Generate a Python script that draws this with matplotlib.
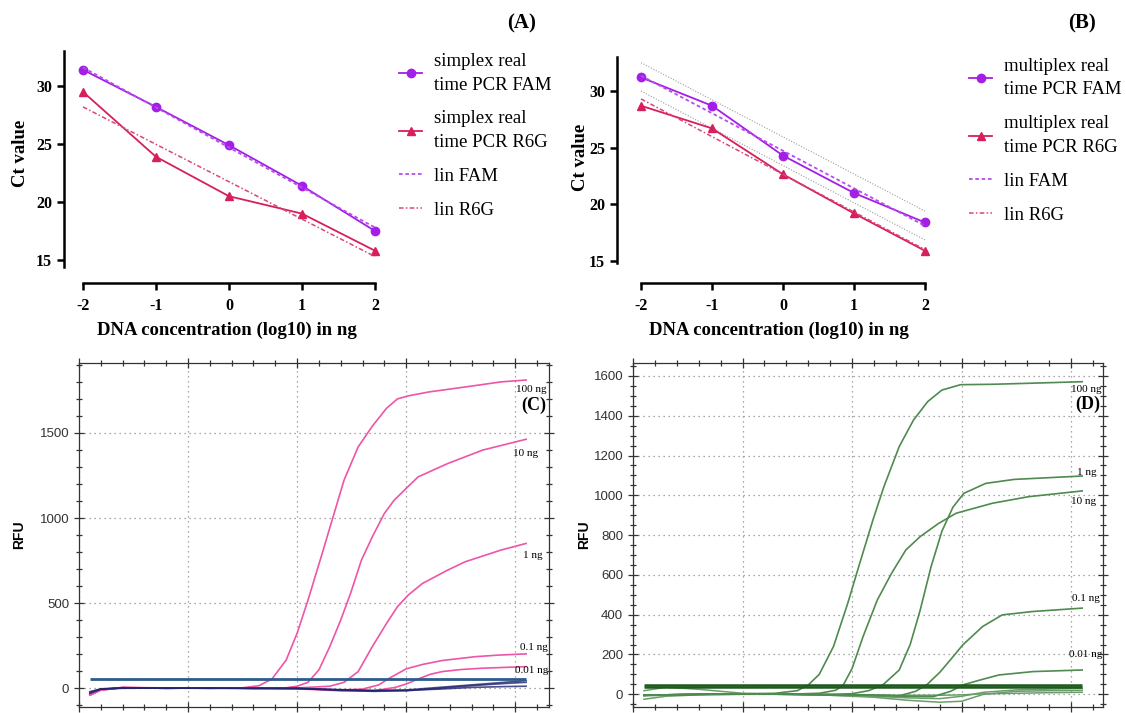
import numpy as np
import matplotlib
matplotlib.use("Agg")
import matplotlib.pyplot as plt
from matplotlib.ticker import MultipleLocator

W, H = 1126, 713

# --- (A) simplex / (B) multiplex standard curves
conc = [-2, -1, 0, 1, 2]
simplex_fam = [31.4, 28.2, 24.9, 21.4, 17.5]
simplex_r6g = [29.5, 23.9, 20.5, 19.0, 15.8]
simplex_lin_fam = [31.6, 17.8]          # read at -2 and 2
simplex_lin_r6g = [28.2, 15.3]
multi_fam = [31.2, 28.7, 24.3, 21.0, 18.4]
multi_r6g = [28.7, 26.7, 22.65, 19.2, 15.9]
multi_lin_fam = [31.35, 18.1]
multi_lin_r6g = [29.3, 16.0]
multi_band_hi = [32.5, 19.4]            # grey dotted lines in (B)
multi_band_lo = [30.0, 16.85]
lin_x = [-2, 2]

# --- (C) simplex amplification curves (cycle, RFU)
c_cyc_100 = [1, 2, 4, 8, 12, 15, 16.5, 17.7, 19, 20, 21, 22.3, 23.3, 24.3, 25.6, 26.9, 28.2, 29.2, 30.2, 32.1, 35.4, 38.7, 41]
c_rfu_100 = [-35, -8, 5, 2, 0, 3, 15, 55, 166, 323, 518, 792, 1007, 1222, 1418, 1540, 1645, 1700, 1718, 1741, 1770, 1800, 1811]
c_cyc_10 = [1, 2, 4, 8, 12, 16, 19, 20, 21, 22, 23, 24, 24.9, 25.9, 26.9, 28, 28.9, 30, 31.1, 33.8, 37, 41]
c_rfu_10 = [-40, -10, 5, 0, 2, 0, 3, 12, 35, 108, 245, 401, 557, 753, 890, 1027, 1105, 1174, 1242, 1320, 1399, 1463]
c_cyc_1 = [1, 2, 4, 8, 12, 16, 20, 23, 24.3, 25.6, 26.9, 28.2, 29.2, 30.2, 31.5, 33.8, 35.4, 38.7, 41]
c_rfu_1 = [-40, -10, 3, 0, 2, 0, 2, 12, 35, 98, 245, 381, 479, 548, 616, 694, 743, 812, 851]
c_cyc_01 = [1, 2, 4, 8, 12, 16, 20, 24, 26, 27.5, 28.4, 30, 31.5, 33.3, 36.4, 38.5, 41]
c_rfu_01 = [-40, -10, 3, 0, 2, 0, -3, -10, -5, 20, 57, 114, 140, 163, 186, 195, 202]
c_cyc_001 = [1, 2, 4, 8, 12, 16, 20, 24, 27, 29, 30, 31.2, 32.2, 33.3, 35, 37, 41]
c_rfu_001 = [-40, -10, 3, 0, 2, 0, -3, -15, -15, 5, 25, 57, 82, 98, 110, 118, 127]
c_cyc_nc = [1, 2, 4, 8, 12, 16, 20, 24, 27, 30, 33, 36, 39, 41]
c_nc1 = [-30, -5, 3, 0, 2, -2, 0, -12, -18, -15, 0, 15, 28, 35]
c_nc2 = [-20, -3, 2, 1, 0, 0, -2, -10, -15, -10, 5, 20, 35, 45]
c_nc3 = [-25, -5, 0, 2, 0, 1, 0, -8, -12, -12, -5, 5, 10, 12]
c_threshold = 57

# --- (D) multiplex amplification curves
d_cyc_100 = [1, 3, 6, 10, 13, 15, 16, 17, 18.3, 19.6, 20.6, 21.9, 22.9, 24.3, 25.6, 26.9, 28.2, 29.9, 32.8, 36.1, 41]
d_rfu_100 = [-5, -3, 0, 2, 5, 18, 47, 100, 240, 457, 641, 876, 1043, 1245, 1378, 1471, 1529, 1556, 1558, 1563, 1571]
d_cyc_10 = [1, 3, 6, 10, 14, 17, 18.5, 19.2, 20, 21, 22.3, 23.6, 24.9, 26.2, 27.9, 29.5, 32.8, 36.1, 41]
d_rfu_10 = [-5, -3, 0, 2, 0, 5, 20, 47, 130, 290, 474, 608, 725, 792, 859, 910, 960, 993, 1022]
d_cyc_1 = [1, 3, 6, 10, 14, 18, 20, 21.5, 22.8, 24.3, 25.3, 26.2, 27.2, 28.2, 29.2, 30.2, 32.2, 34.8, 41]
d_rfu_1 = [-5, -3, 0, 2, 0, -2, 3, 18, 47, 122, 250, 420, 640, 820, 940, 1010, 1060, 1080, 1097]
d_cyc_01 = [1, 3, 6, 10, 14, 18, 22, 24.3, 25.8, 26.8, 28, 29, 30.1, 31.9, 33.7, 36.5, 41]
d_rfu_01 = [-5, -3, 0, 2, 0, -2, -5, -8, 15, 47, 110, 175, 248, 340, 399, 416, 433]
d_cyc_001 = [1, 3, 6, 10, 14, 18, 22, 25, 27.4, 29, 30.1, 31.9, 33.4, 36.5, 41]
d_rfu_001 = [-5, -3, 0, 2, 0, -2, -5, -10, -12, 15, 47, 75, 97, 114, 122]
d_cyc_nc = [1, 3, 6, 10, 14, 18, 22, 25, 28, 30, 32, 35, 38, 41]
d_nc1 = [18, 35, 25, 5, 0, -5, -10, -18, -22, -10, 10, 22, 26, 30]
d_nc2 = [-25, -10, -3, 0, 0, -5, -15, -30, -40, -35, 0, 15, 18, 20]
d_nc3 = [-8, -5, -2, 0, 0, 0, -3, -5, -5, -3, 2, 5, 8, 10]
d_thresholds = [47, 35]

FAM = '#a41fe6'
R6G = '#d61f5c'
PINK = '#ee55a6'
NAVY = '#1f2470'
STEEL = '#2d5b8c'
GREEN = '#4f8a4f'
DKGREEN = '#1e5a1e'

serif = 'Liberation Serif'
sans = 'Liberation Sans'


def px_axes(fig, l, t, r, b):
    return fig.add_axes([l / W, 1 - b / H, (r - l) / W, (b - t) / H])


fig = plt.figure(figsize=(W / 100, H / 100), dpi=100)


def prism_axes(ax, xlim, ylim, ybounds, ylab_xy):
    ax.set_xlim(*xlim)
    ax.set_ylim(*ylim)
    for s in ['top', 'right']:
        ax.spines[s].set_visible(False)
    ax.spines['left'].set_bounds(*ybounds)
    ax.spines['bottom'].set_bounds(-2, 2)
    for s in ['left', 'bottom']:
        ax.spines[s].set_linewidth(1.8)
    ax.set_xticks(conc)
    ax.set_xticklabels(['-2', '-1', '0', '1', '2'])
    ax.set_yticks([15, 20, 25, 30])
    ax.tick_params(width=1.8, length=5, labelsize=11.5)
    ax.tick_params(axis='x', pad=6)
    for lab in ax.get_xticklabels() + ax.get_yticklabels():
        lab.set_fontfamily(serif)
        lab.set_fontweight('bold')
    ax.set_xlabel('DNA concentration (log10) in ng', fontfamily=serif,
                  fontweight='bold', fontsize=13.5, labelpad=5)
    ax.set_ylabel('Ct value', fontfamily=serif, fontweight='bold',
                  fontsize=13.5)
    ax.yaxis.set_label_coords(*ylab_xy)
    ax.patch.set_alpha(0)


def prism_legend(ax, x, y):
    leg = ax.legend(loc='upper left', bbox_to_anchor=(x / W, 1 - y / H),
                    bbox_transform=fig.transFigure, frameon=False,
                    prop={'family': serif, 'size': 13.5}, handlelength=1.25,
                    handletextpad=0.6, labelspacing=0.9, borderpad=0,
                    borderaxespad=0)
    for t in leg.get_texts():
        t.set_linespacing(1.5)
    return leg


# ---- panel A
axA = px_axes(fig, 64, 51, 390, 283)
axA.plot(conc, simplex_fam, color=FAM, marker='o', ms=6, lw=1.3,
         label='simplex real\ntime PCR FAM')
axA.plot(conc, simplex_r6g, color=R6G, marker='^', ms=6, lw=1.3,
         label='simplex real\ntime PCR R6G')
axA.plot(lin_x, simplex_lin_fam, color='#b84af0', ls=(0, (2, 1.5)), lw=1.3,
         label='lin FAM')
axA.plot(lin_x, simplex_lin_r6g, color='#d9457c', ls=(0, (3, 1.5, 1, 1.5)),
         lw=1.1, label='lin R6G')
prism_axes(axA, (-2.26, 2.205), (13.02, 33.02), (14.4, 33.0), (-0.107, 0.56))
prism_legend(axA, 399, 53)
fig.text(522 / W, 1 - 23 / H, '(A)', fontfamily=serif, fontweight='bold',
         fontsize=15, ha='center', va='center')

# ---- panel B
axB = px_axes(fig, 617, 57, 940, 283)
axB.plot(lin_x, multi_band_hi, color='#9aa09a', ls=(0, (1, 1.5)), lw=0.8)
axB.plot(lin_x, multi_band_lo, color='#9aa09a', ls=(0, (1, 1.5)), lw=0.8)
axB.plot(conc, multi_fam, color=FAM, marker='o', ms=6, lw=1.3,
         label='multiplex real\ntime PCR FAM')
axB.plot(conc, multi_r6g, color=R6G, marker='^', ms=6, lw=1.3,
         label='multiplex real\ntime PCR R6G')
axB.plot(lin_x, multi_lin_fam, color='#b84af0', ls=(0, (2, 1.5)), lw=1.3,
         label='lin FAM')
axB.plot(lin_x, multi_lin_r6g, color='#d9457c', ls=(0, (3, 1.5, 1, 1.5)),
         lw=1.1, label='lin R6G')
prism_axes(axB, (-2.338, 2.211), (13.06, 33.0), (14.8, 33.0), (-0.087, 0.557))
prism_legend(axB, 969, 58)
fig.text(1082 / W, 1 - 23 / H, '(B)', fontfamily=serif, fontweight='bold',
         fontsize=15, ha='center', va='center')


def rfu_axes(ax, xlim, ylim, major, minor, ylab_x):
    ax.set_xlim(*xlim)
    ax.set_ylim(*ylim)
    ax.xaxis.set_major_locator(MultipleLocator(10))
    ax.xaxis.set_minor_locator(MultipleLocator(2))
    ax.yaxis.set_major_locator(MultipleLocator(major))
    ax.yaxis.set_minor_locator(MultipleLocator(minor))
    ax.grid(True, which='major', color='#8c8c8c', ls=(0, (1, 3)), lw=0.9)
    ax.tick_params(which='both', direction='inout', top=True, right=True,
                   labelbottom=False, width=0.9, color='#333333')
    ax.tick_params(which='major', length=7, labelsize=9.5,
                   labelcolor='#333333')
    ax.tick_params(which='minor', length=4)
    for lab in ax.get_yticklabels():
        lab.set_fontfamily(sans)
    for s in ax.spines.values():
        s.set_linewidth(0.9)
        s.set_color('#333333')
    ax.set_ylabel('RFU', fontfamily=sans, fontweight='bold', fontsize=10)
    ax.yaxis.set_label_coords(ylab_x, 0.5)


# ---- panel C
axC = px_axes(fig, 79, 363, 549, 707)
for cyc, val in [(c_cyc_100, c_rfu_100), (c_cyc_10, c_rfu_10),
                 (c_cyc_1, c_rfu_1), (c_cyc_01, c_rfu_01),
                 (c_cyc_001, c_rfu_001)]:
    axC.plot(cyc, val, color=PINK, lw=1.2)
for cyc, val in [(c_cyc_nc, c_nc1), (c_cyc_nc, c_nc2), (c_cyc_nc, c_nc3)]:
    axC.plot(cyc, val, color=NAVY, lw=1.2, alpha=0.8)
axC.hlines(c_threshold, 1, 41, color=STEEL, lw=2)
rfu_axes(axC, (0, 43.1), (-110, 1911), 500, 100, -0.113)
for x, y, s in [(40.1, 1753, '100 ng'), (39.8, 1382, '10 ng'),
                (40.7, 782, '1 ng'), (40.4, 241, '0.1 ng'),
                (40.0, 106, '0.01 ng')]:
    axC.text(x, y, s, fontfamily=serif, fontsize=8, va='center')
axC.text(41.7, 1665, '(C)', fontfamily=serif, fontweight='bold', fontsize=13,
         ha='center', va='center')

# ---- panel D
axD = px_axes(fig, 633, 363, 1103, 707)
for cyc, val in [(d_cyc_nc, d_nc1), (d_cyc_nc, d_nc2), (d_cyc_nc, d_nc3)]:
    axD.plot(cyc, val, color='#6a9d6a', lw=1.1)
for cyc, val in [(d_cyc_100, d_rfu_100), (d_cyc_10, d_rfu_10),
                 (d_cyc_1, d_rfu_1), (d_cyc_01, d_rfu_01),
                 (d_cyc_001, d_rfu_001)]:
    axD.plot(cyc, val, color=GREEN, lw=1.2)
for thr in d_thresholds:
    axD.hlines(thr, 1, 41, color=DKGREEN, lw=1.8)
rfu_axes(axD, (0, 42.9), (-64, 1665), 200, 50, -0.089)
for x, y, s in [(40.0, 1531, '100 ng'), (40.5, 1113, '1 ng'),
                (40.0, 968, '10 ng'), (40.1, 479, '0.1 ng'),
                (39.8, 198, '0.01 ng')]:
    axD.text(x, y, s, fontfamily=serif, fontsize=8, va='center')
axD.text(41.5, 1456, '(D)', fontfamily=serif, fontweight='bold', fontsize=13,
         ha='center', va='center')

fig.savefig('out.png', dpi=100)
